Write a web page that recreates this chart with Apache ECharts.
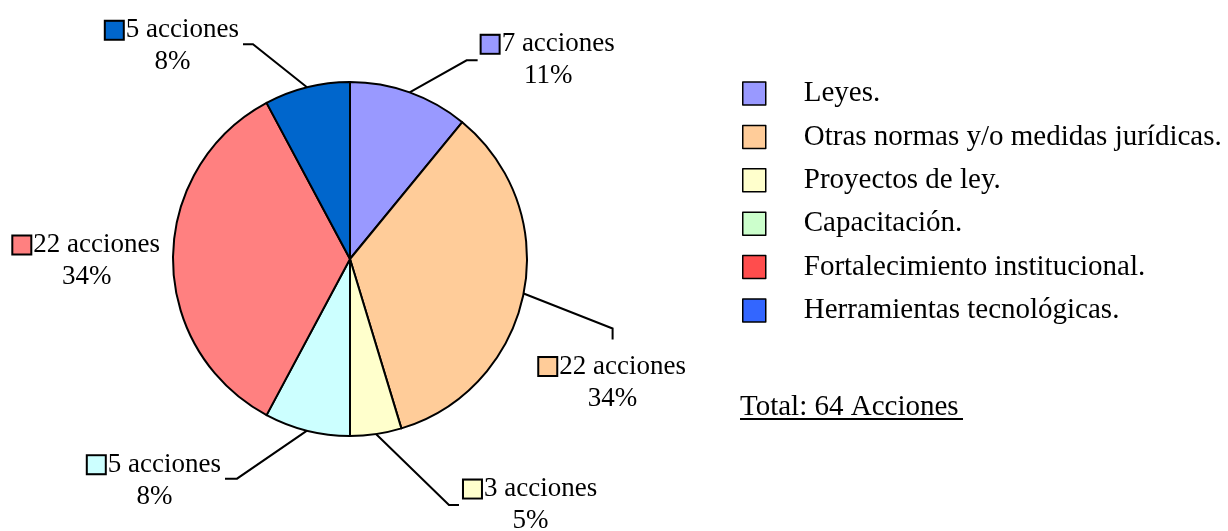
<!DOCTYPE html>
<html>
<head>
<meta charset="utf-8">
<script src="https://cdn.jsdelivr.net/npm/echarts@6/dist/echarts.min.js"></script>
<style>
  html, body { margin: 0; padding: 0; background: #fff; }
  #chartPie { width: 1228px; height: 531px; }
</style>
</head>
<body>
<div id="chartPie"></div>
<script>
    // datos
    var categories = ['Leyes.', 'Otras normas y/o medidas jurídicas.', 'Proyectos de ley.', 'Capacitación.', 'Fortalecimiento institucional.', 'Herramientas tecnológicas.']
    var values = [7, 22, 3, 5, 22, 5]
    var sliceColors = ['#9999FF', '#FFCC99', '#FFFFCC', '#CCFFFF', '#FF8080', '#0066CC']
    var legendColors = ['#9999FF', '#FFCC99', '#FFFFCC', '#CCFFCC', '#FF4D4D', '#3366FF']

    // layout
    var cx = 350, cy = 259, r = 177
    var font = '"Liberation Serif", "Times New Roman", serif'
    // bend offset, end offset, side, gap
    var labelGeo = [
        { bend: [57, -32], end: [11, 0], side: 'right', gap: 3 },
        { bend: [89, 35], end: [0, 11], side: 'below', gap: 11 },
        { bend: [73, 71], end: [10, 0], side: 'right', gap: 4 },
        { bend: [-70, 48], end: [-12, 0], side: 'left', gap: 3 },
        { bend: null, end: null, side: 'left', gap: 12 },
        { bend: [-54, -43], end: [-10, 0], side: 'left', gap: 3 }
    ]

    var total = values.reduce(function (a, b) { return a + b }, 0)

    function edgePoint(i) {
        var cum = 0
        for (var k = 0; k < i; k++) cum += values[k]
        var a = (cum + values[i] / 2) / total * Math.PI * 2
        return [cx + r * Math.sin(a), cy - r * Math.cos(a)]
    }

    var pieData = values.map(function (v, i) {
        return {
            name: categories[i],
            value: v,
            itemStyle: { color: sliceColors[i] },
            labelLine: { show: labelGeo[i].bend != null },
            label: {
                rich: {
                    sq: { width: 17, height: 17, backgroundColor: sliceColors[i], borderColor: '#000', borderWidth: 2 },
                    gap: { width: 3 },
                    t: { fontFamily: font, fontSize: 27, lineHeight: 32, color: '#000' },
                    p: { fontFamily: font, fontSize: 27, lineHeight: 32, color: '#000' }
                }
            }
        }
    })

    var chartPie = echarts.init(document.getElementById('chartPie'))
    chartPie.setOption({
        animation: false,
        backgroundColor: '#fff',
        legend: {
            orient: 'vertical',
            left: 737,
            top: 73.5,
            itemWidth: 23,
            itemHeight: 23,
            itemGap: 13.4,
            icon: 'rect',
            selectedMode: false,
            textStyle: { fontFamily: font, fontSize: 29, lineHeight: 30, color: '#000', padding: [0, 0, 0, 33] },
            data: categories.map(function (c, i) {
                return { name: c, itemStyle: { color: legendColors[i], borderColor: '#000', borderWidth: 1.5 } }
            })
        },
        graphic: [
            {
                type: 'text',
                left: 740,
                top: 393,
                style: { text: 'Total: ' + total + ' Acciones', font: '29px ' + font, fill: '#000' }
            },
            {
                type: 'line',
                shape: { x1: 740, y1: 419, x2: 963, y2: 419 },
                style: { stroke: '#000', lineWidth: 2 }
            }
        ],
        series: [
            {
                name: 'Acciones',
                type: 'pie',
                center: [cx, cy],
                radius: r,
                startAngle: 90,
                clockwise: true,
                avoidLabelOverlap: false,
                itemStyle: { borderColor: '#000', borderWidth: 2 },
                emphasis: { disabled: true },
                label: {
                    show: true,
                    position: 'outside',
                    formatter: function (p) {
                        return '{sq|}{gap|}{t|' + p.value + ' acciones}\n{p|' + Math.round(p.percent) + '%}'
                    }
                },
                labelLine: { show: true, length: 20, length2: 10, lineStyle: { color: '#000', width: 2 } },
                labelLayout: function (params) {
                    var i = params.dataIndex
                    var g = labelGeo[i]
                    var e = edgePoint(i)
                    var w = params.labelRect.width
                    var out = { align: 'center', verticalAlign: 'middle' }
                    var end = e
                    if (g.bend) {
                        var b = [e[0] + g.bend[0], e[1] + g.bend[1]]
                        end = [b[0] + g.end[0], b[1] + g.end[1]]
                        out.labelLinePoints = [e, b, end]
                    }
                    if (g.side === 'right') {
                        out.x = end[0] + g.gap + w / 2
                        out.y = end[1]
                    } else if (g.side === 'left') {
                        out.x = end[0] - g.gap - w / 2
                        out.y = end[1] + 2
                    } else {
                        out.x = end[0]
                        out.y = end[1] + g.gap
                        out.verticalAlign = 'top'
                    }
                    return out
                },
                data: pieData
            }
        ]
    })
</script>
</body>
</html>
